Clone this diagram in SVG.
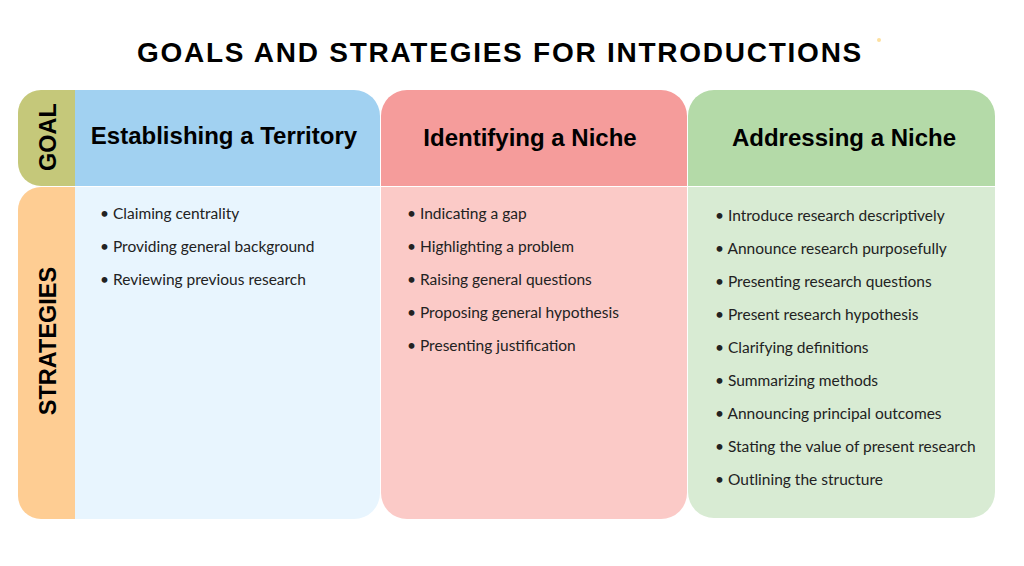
<svg xmlns="http://www.w3.org/2000/svg" width="1024" height="566" viewBox="0 0 1024 566">
<style>
.title{font-family:"Liberation Sans",Arial,sans-serif;font-weight:bold;font-size:28px;fill:#000;text-anchor:middle;letter-spacing:1.75px}
.side{font-family:"Liberation Sans",Arial,sans-serif;font-weight:bold;font-size:23.5px;fill:#000;text-anchor:middle}
.head{font-family:"Liberation Sans",Arial,sans-serif;font-weight:bold;font-size:24px;fill:#000;text-anchor:middle}
.item{font-family:Lato,"Noto Sans",sans-serif;font-size:15.5px;fill:#222}
</style>
<rect width="1024" height="566" fill="#fff"/>
<text class="title" x="500" y="62">GOALS AND STRATEGIES FOR INTRODUCTIONS</text>
<circle cx="879" cy="40" r="2" fill="#fde0a0"/>
<g id="goal-label">
<path d="M75,90 H41 A23,23 0 0 0 18,113 V163 A23,23 0 0 0 41,186 H75 Z" fill="#c5c87a"/>
<text class="side" transform="translate(56,137) rotate(-90)">GOAL</text>
</g>
<g id="strategies-label">
<path d="M75,187 H41 A23,23 0 0 0 18,210 V496 A23,23 0 0 0 41,519 H75 Z" fill="#fecd93"/>
<text class="side" transform="translate(56,341) rotate(-90)">STRATEGIES</text>
</g>
<g id="col-territory">
<path d="M75,90 H354 A26,26 0 0 1 380,116 V186 H75 Z" fill="#a1d1f1"/>
<path d="M75,187 H380 V493 A26,26 0 0 1 354,519 H75 Z" fill="#e8f5fe"/>
<text class="head" x="224" y="144">Establishing a Territory</text>
<text class="item" x="100" y="219">• Claiming centrality</text>
<text class="item" x="100" y="252">• Providing general background</text>
<text class="item" x="100" y="285">• Reviewing previous research</text>
</g>
<g id="col-identifying">
<path d="M381,186 V116 A26,26 0 0 1 407,90 H661 A26,26 0 0 1 687,116 V186 Z" fill="#f59c9b"/>
<path d="M381,187 H687 V493 A26,26 0 0 1 661,519 H407 A26,26 0 0 1 381,493 Z" fill="#fbcac7"/>
<text class="head" x="530" y="146">Identifying a Niche</text>
<text class="item" x="407" y="219">• Indicating a gap</text>
<text class="item" x="407" y="252">• Highlighting a problem</text>
<text class="item" x="407" y="285">• Raising general questions</text>
<text class="item" x="407" y="318">• Proposing general hypothesis</text>
<text class="item" x="407" y="351">• Presenting justification</text>
</g>
<g id="col-addressing">
<path d="M688,186 V116 A26,26 0 0 1 714,90 H969 A26,26 0 0 1 995,116 V186 Z" fill="#b4daa8"/>
<path d="M688,187 H995 V492 A26,26 0 0 1 969,518 H714 A26,26 0 0 1 688,492 Z" fill="#d8ebd3"/>
<text class="head" x="844" y="146">Addressing a Niche</text>
<text class="item" x="715" y="221">• Introduce research descriptively</text>
<text class="item" x="715" y="254">• Announce research purposefully</text>
<text class="item" x="715" y="287">• Presenting research questions</text>
<text class="item" x="715" y="320">• Present research hypothesis</text>
<text class="item" x="715" y="353">• Clarifying definitions</text>
<text class="item" x="715" y="386">• Summarizing methods</text>
<text class="item" x="715" y="419">• Announcing principal outcomes</text>
<text class="item" x="715" y="452">• Stating the value of present research</text>
<text class="item" x="715" y="485">• Outlining the structure</text>
</g>
<g id="connectors"/>
</svg>
